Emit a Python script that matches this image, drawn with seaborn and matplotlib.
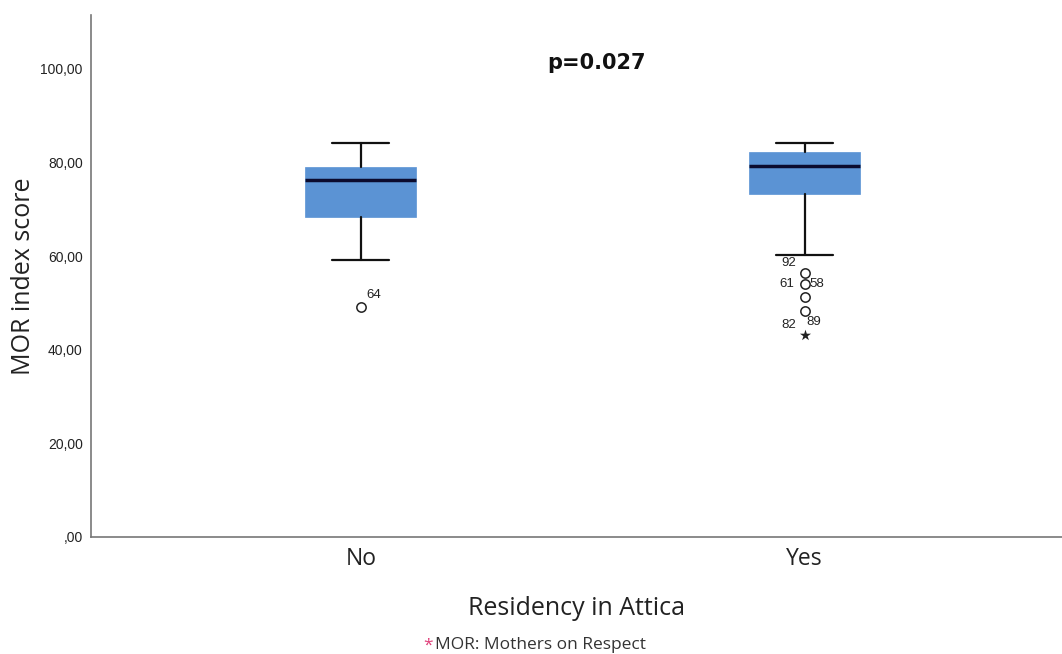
import matplotlib.pyplot as plt
import seaborn as sns

# summary values
groups = ['No', 'Yes']
whislo = [59.2, 60.3]
q1 = [68.4, 73.3]
med = [76.3, 79.3]
q3 = [79.1, 82.3]
whishi = [84.2, 84.2]

# outliers (circles) and extremes (star)
out_group = [0, 1, 1, 1, 1]
out_value = [49.1, 56.4, 54.1, 51.3, 48.3]
ext_group = [1]
ext_value = [43.2]

# case labels next to outliers
lab_text = ['64', '92', '61', '58', '82', '89']
lab_group = [0, 1, 1, 1, 1, 1]
lab_value = [49.1, 56.4, 54.1, 54.1, 48.3, 43.2]
lab_offset = [(4, 9), (-17, 7), (-18, 0), (3.5, 0), (-17, -10), (1, 9)]

sns.set_style('white')
plt.rcParams['font.family'] = ['Liberation Sans', 'DejaVu Sans']

fig = plt.figure(figsize=(10.62, 6.54), dpi=100)
ax = fig.add_axes([0.0857, 0.179, 0.914, 0.798])

stats = []
for i, g in enumerate(groups):
    stats.append({'label': g, 'whislo': whislo[i], 'q1': q1[i], 'med': med[i],
                  'q3': q3[i], 'whishi': whishi[i], 'fliers': []})

ax.bxp(stats, positions=[0, 1], widths=0.25, patch_artist=True, showfliers=False,
       boxprops=dict(facecolor='#5b93d4', edgecolor='#5b93d4', linewidth=0.5),
       medianprops=dict(color='#0b0b2e', linewidth=2.5),
       whiskerprops=dict(color='#111111', linewidth=1.6),
       capprops=dict(color='#111111', linewidth=1.6),
       capwidths=0.128)

sns.scatterplot(x=out_group, y=out_value, ax=ax, marker='o', s=45,
                facecolor='white', edgecolor='#222222', linewidth=1.1, zorder=4)
sns.scatterplot(x=ext_group, y=ext_value, ax=ax, marker='*', s=70,
                color='#222222', linewidth=0, zorder=4)

for t, gx, v, off in zip(lab_text, lab_group, lab_value, lab_offset):
    ax.annotate(t, (gx, v), xytext=off, textcoords='offset points',
                fontsize=9.5, color='#222222', ha='left', va='center')

ax.set_xlim(-0.608, 1.579)
ax.set_ylim(0, 111.5)
ax.set_xticks([0, 1])
ax.set_xticklabels(groups, fontsize=16.5, color='#222222', family='Open Sans')
ax.set_yticks([0, 20, 40, 60, 80, 100])
ax.set_yticklabels([',00', '20,00', '40,00', '60,00', '80,00', '100,00'],
                   fontsize=10, color='#222222')
ax.tick_params(axis='y', length=0, pad=6)
ax.tick_params(axis='x', length=0, pad=7)

for s in ['top', 'right']:
    ax.spines[s].set_visible(False)
for s in ['left', 'bottom']:
    ax.spines[s].set_color('#777777')
    ax.spines[s].set_linewidth(1.2)

ax.set_ylabel('MOR index score', fontsize=18, color='#222222', family='Open Sans')
ax.yaxis.set_label_coords(-0.057, 0.5)
ax.set_xlabel('Residency in Attica', fontsize=18, color='#222222', family='Open Sans')
ax.xaxis.set_label_coords(0.5, -0.113)

ax.text(0.521, 0.908, 'p=0.027', transform=ax.transAxes, fontsize=15,
        fontweight='bold', ha='center', va='center', color='#111111',
        family='DejaVu Sans')

fig.text(0.3985, 0.0135, '*', color='#e0407a', fontsize=12.5, ha='left', va='center',
         family='Open Sans')
fig.text(0.4095, 0.0135, 'MOR: Mothers on Respect', color='#333333', fontsize=12.5,
         ha='left', va='center', family='Open Sans')

fig.savefig('out.png', dpi=100)
